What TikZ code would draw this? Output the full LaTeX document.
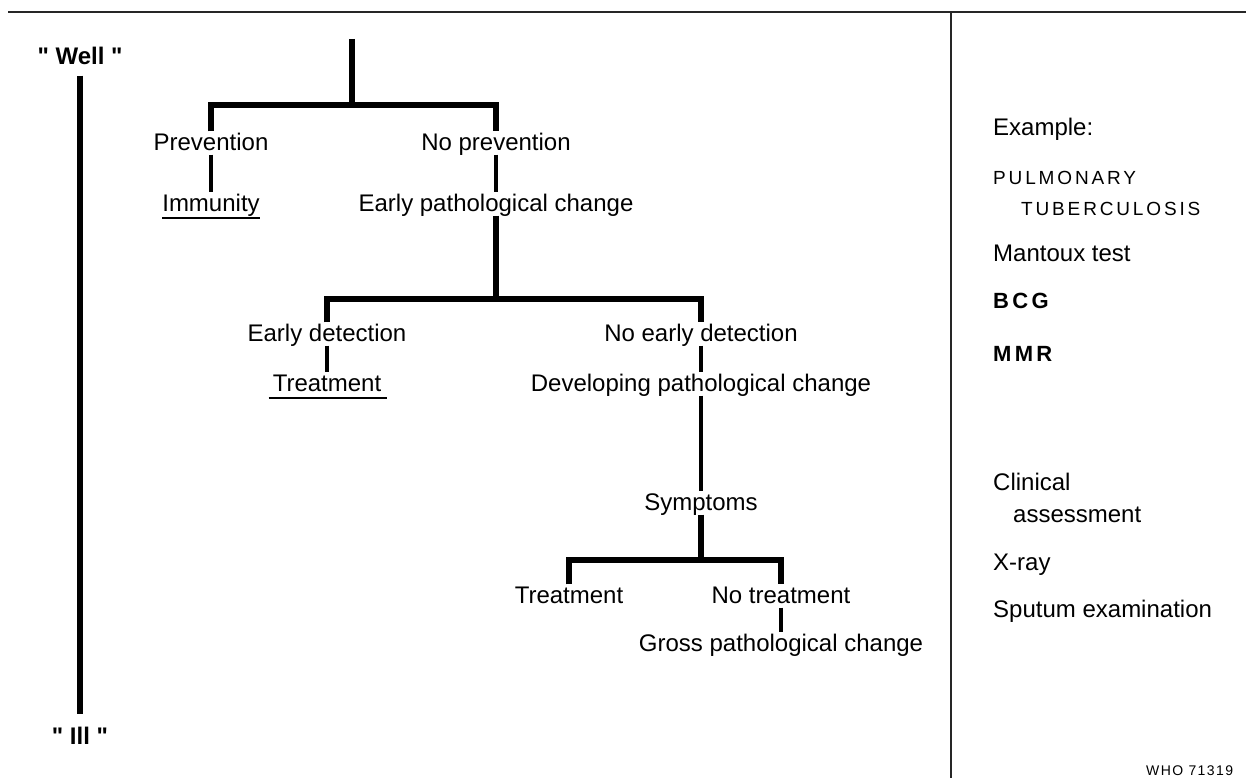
\documentclass[tikz,border=0pt]{standalone}
\usepackage{fontspec}
\setmainfont{Liberation Sans}

\tikzset{
  lbl/.style={font=\fontsize{24}{28}\selectfont, inner sep=0pt, text height=19pt, text depth=4pt},
  endlbl/.style={lbl, font=\fontsize{24}{28}\selectfont\bfseries},
  side/.style={lbl, anchor=west},
  tree/.style={line width=5.5pt},
  link/.style={line width=4pt},
  uline/.style={line width=2pt},
  rule/.style={line width=1.6pt, black!85},
}

\begin{document}
\begin{tikzpicture}[x=1pt,y=-1pt]
    \useasboundingbox (0,0) rectangle (1246,778);

    % frame
    \draw[rule] (8,12) -- (1246,12);
    \draw[rule] (951,12) -- (951,778);

    % well -- ill
    \node[endlbl] (well) at (80,57) {\textquotedbl\ Well \textquotedbl};
    \node[endlbl] (ill) at (80,737) {\textquotedbl\ Ill \textquotedbl};
    \draw[tree, shorten <=7pt, shorten >=11pt] (well.south) -- (ill.north);

    % first split
    \coordinate (root) at (352,39);
    \coordinate (b1) at (352,105);
    \node[lbl] (prev) at (211,143) {Prevention};
    \node[lbl] (noprev) at (496,143) {No prevention};
    \node[lbl] (immun) at (211,204) {Immunity};
    \node[lbl] (epc) at (496,204) {Early pathological change};
    \draw[tree] (root) -- (b1);
    \draw[tree] (prev.north) |- (b1) -| (noprev.north);
    \draw[link] (prev.south) -- (immun.north);
    \draw[link] (noprev.south) -- (epc.north);
    \draw[uline] ([yshift=-2pt]immun.south west) -- ([yshift=-2pt]immun.south east);

    % second split
    \coordinate (b2) at (496,299);
    \node[lbl] (edet) at (327,334) {Early detection};
    \node[lbl] (noedet) at (701,334) {No early detection};
    \node[lbl] (treat1) at (327,384) {Treatment};
    \node[lbl] (dpc) at (701,384) {Developing pathological change};
    \draw[tree] (epc.south) -- (b2);
    \draw[tree] (edet.north) |- (b2) -| (noedet.north);
    \draw[link] (edet.south) -- (treat1.north);
    \draw[link] (noedet.south) -- (dpc.north);
    \draw[uline] ([xshift=-4pt,yshift=-2pt]treat1.south west) -- ([xshift=6pt,yshift=-2pt]treat1.south east);

    % symptoms
    \node[lbl] (symp) at (701,503) {Symptoms};
    \draw[link] (dpc.south) -- (symp.north);

    % third split
    \coordinate (b3) at (701,560);
    \node[lbl] (treat2) at (569,596) {Treatment};
    \node[lbl] (notreat) at (781,596) {No treatment};
    \node[lbl] (gpc) at (781,644) {Gross pathological change};
    \draw[tree] (symp.south) -- (b3);
    \draw[tree] (treat2.north) |- (b3) -| (notreat.north);
    \draw[link] (notreat.south) -- (gpc.north);

    % example column
    \node[side] (ex) at (993,128) {Example:};
    \node[side] (pul) at (993,177) {\fontsize{19}{22}\selectfont\addfontfeature{LetterSpace=15}PULMONARY};
    \node[side] (tub) at (1021,208) {\fontsize{19}{22}\selectfont\addfontfeature{LetterSpace=15}TUBERCULOSIS};
    \node[side] (mant) at (993,254) {Mantoux test};
    \node[side] (bcg) at (993,301) {\bfseries\fontsize{22}{26}\selectfont\addfontfeature{LetterSpace=15}BCG};
    \node[side] (mmr) at (993,354) {\bfseries\fontsize{22}{26}\selectfont\addfontfeature{LetterSpace=15}MMR};
    \node[side] (clin) at (993,483) {Clinical};
    \node[side] (asse) at (1013,515) {assessment};
    \node[side] (xray) at (993,563) {X-ray};
    \node[side] (sput) at (993,610) {Sputum examination};

    \node[anchor=west, inner sep=0pt, font=\fontsize{14}{16}\selectfont] (who) at (1146,771) {\addfontfeature{LetterSpace=10}WHO 71319};
\end{tikzpicture}
\end{document}
